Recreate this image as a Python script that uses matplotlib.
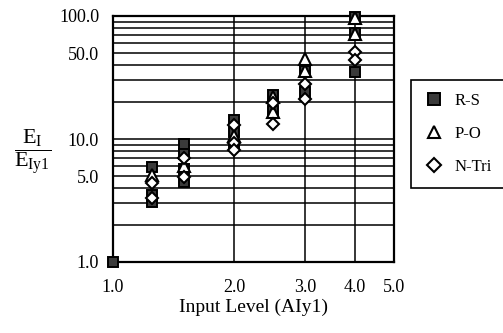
import matplotlib
matplotlib.use("Agg")
import matplotlib.pyplot as plt
from matplotlib.ticker import FixedLocator, NullFormatter

plt.rcParams["font.family"] = ["Liberation Serif", "DejaVu Serif"]
plt.rcParams["mathtext.fontset"] = "custom"
plt.rcParams["mathtext.rm"] = "Liberation Serif"
plt.rcParams["mathtext.it"] = "Liberation Serif"

# R-S (square) points
rs_x = [1.0, 1.25, 1.25, 1.25, 1.5, 1.5, 1.5, 1.5, 2.0, 2.0, 2.0,
        2.5, 2.5, 3.0, 3.0, 4.0, 4.0, 4.0]
rs_y = [1.0, 5.9, 3.5, 3.1, 9.1, 7.5, 5.7, 4.5, 14.3, 11.5, 9.0,
        23.0, 17.0, 36.0, 24.0, 98.0, 73.0, 35.0]
# P-O (triangle) points
po_x = [1.25, 1.5, 2.0, 2.5, 2.5, 3.0, 3.0, 4.0, 4.0]
po_y = [5.1, 6.0, 10.6, 22.0, 16.5, 45.0, 36.0, 97.0, 72.0]
# N-Tri (diamond) points
nt_x = [1.25, 1.25, 1.5, 1.5, 2.0, 2.0, 2.0, 2.5, 2.5, 3.0, 3.0, 4.0, 4.0]
nt_y = [4.4, 3.3, 7.0, 4.9, 13.0, 9.3, 8.2, 19.5, 13.3, 28.0, 21.0, 51.0, 44.0]

x_ticks = [1.0, 2.0, 3.0, 4.0, 5.0]
y_ticks = [1.0, 5.0, 10.0, 50.0, 100.0]
y_grid = [2, 3, 4, 6, 7, 8, 9, 20, 30, 40, 60, 70, 80, 90]

fig = plt.figure(figsize=(5.03, 3.33), dpi=100)
ax = fig.add_axes([113 / 503, 1 - 262 / 333, (394 - 113) / 503, (262 - 16) / 333])
ax.set_xscale("log")
ax.set_yscale("log")
ax.set_xlim(1.0, 5.0)
ax.set_ylim(1.0, 100.0)

ax.xaxis.set_major_locator(FixedLocator(x_ticks))
ax.xaxis.set_minor_locator(FixedLocator([]))
ax.set_xticklabels([f"{v:.1f}" for v in x_ticks])
ax.xaxis.set_minor_formatter(NullFormatter())
ax.yaxis.set_major_locator(FixedLocator(y_ticks))
ax.yaxis.set_minor_locator(FixedLocator(y_grid))
ax.set_yticklabels([f"{v:.1f}" for v in y_ticks])
ax.yaxis.set_minor_formatter(NullFormatter())
ax.tick_params(which="both", length=0, labelsize=13)
ax.tick_params(axis="x", pad=12)
ax.tick_params(axis="y", pad=10)

ax.grid(True, which="major", axis="x", color="black", lw=1.1)
ax.grid(True, which="both", axis="y", color="black", lw=1.1)
for s in ax.spines.values():
    s.set_linewidth(1.6)
ax.set_axisbelow(True)

ax.plot(rs_x, rs_y, ls="none", marker="s", ms=7.5, mfc="#3a3a3a", mec="black",
        mew=1.4, label="R-S", clip_on=False, zorder=3)
ax.plot(po_x, po_y, ls="none", marker="^", ms=8.5, mfc="white", mec="black",
        mew=1.5, label="P-O", clip_on=False, zorder=4)
ax.plot(nt_x, nt_y, ls="none", marker="D", ms=6.5, mfc="white", mec="black",
        mew=1.5, label="N-Tri", clip_on=False, zorder=5)

ax.set_xlabel("Input Level (AIy1)", fontsize=14, labelpad=2)

fig.text(33 / 503, 1 - 152 / 333,
         r"$\dfrac{\mathrm{E_I}}{\mathrm{E_{Iy1}}}$", fontsize=16,
         ha="center", va="center")

leg = ax.legend(loc="upper left",
                bbox_to_anchor=(411 / 503, 1 - 186 / 333, 0.3, 106 / 333),
                bbox_transform=fig.transFigure, mode="expand", fontsize=12,
                frameon=True, fancybox=False, edgecolor="black", framealpha=1,
                borderpad=0.8, labelspacing=1.0, handletextpad=0.6,
                handlelength=1.2, borderaxespad=0, markerscale=1.1)
leg.get_frame().set_linewidth(1.2)

fig.savefig("out.png", dpi=100)
